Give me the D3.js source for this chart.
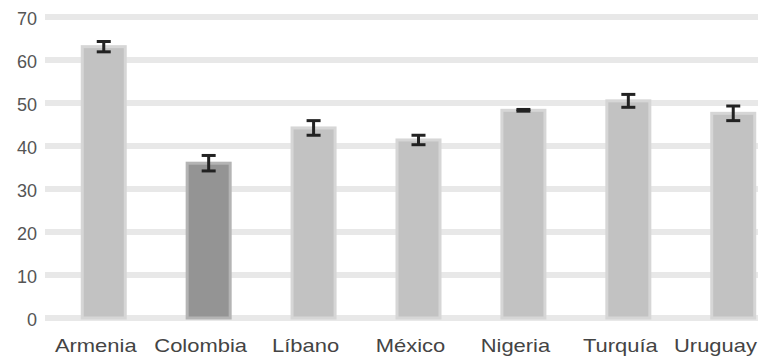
<!DOCTYPE html>
<html>
<head>
<meta charset="utf-8">
<script src="https://cdn.jsdelivr.net/npm/d3@7"></script>
<style>
  html, body { margin: 0; padding: 0; background: #ffffff; }
  svg { display: block; }
</style>
</head>
<body>
<svg id="chart" width="758" height="364"></svg>
<script>
// Country categories, mean values and error margins
const categories = ["Armenia", "Colombia", "Líbano", "México", "Nigeria", "Turquía", "Uruguay"];
const values = [63.1, 36.0, 44.2, 41.4, 48.3, 50.5, 47.6];
const errors = [1.2, 1.8, 1.7, 1.1, 0.2, 1.5, 1.7];
const yTicks = [0, 10, 20, 30, 40, 50, 60, 70];
const highlighted = ["Colombia"];

const W = 758;
const svg = d3.select("#chart");

const x = d3.scaleBand()
  .domain(categories)
  .range([45, 792])
  .paddingInner(0.59)
  .paddingOuter(0.355);

const y = d3.scaleLinear()
  .domain([0, 70])
  .range([318, 17]);

// Horizontal gridlines
svg.append("g")
  .selectAll("line")
  .data(yTicks)
  .join("line")
  .attr("x1", 45)
  .attr("x2", W)
  .attr("y1", d => y(d))
  .attr("y2", d => y(d))
  .attr("stroke", "#e8e8e8")
  .attr("stroke-width", 6);

// Y-axis labels
const yAxis = d3.axisLeft(y).tickValues(yTicks).tickSize(0).tickPadding(0);
const gy = svg.append("g")
  .attr("transform", "translate(37,2)")
  .call(yAxis);
gy.select(".domain").remove();
gy.selectAll("text")
  .attr("fill", "#555")
  .style("font-family", "'Liberation Sans', Arial, sans-serif")
  .style("font-size", "18px");

// Bars
const data = categories.map((c, i) => ({ c, v: values[i], e: errors[i] }));

svg.append("g")
  .selectAll("rect")
  .data(data)
  .join("rect")
  .attr("x", d => x(d.c))
  .attr("width", x.bandwidth())
  .attr("y", d => y(d.v))
  .attr("height", d => y(0) - y(d.v))
  .attr("fill", d => highlighted.includes(d.c) ? "#949494" : "#c2c2c2")
  .attr("stroke", d => highlighted.includes(d.c) ? "#b4b4b4" : "#d6d6d6")
  .attr("stroke-width", 3);

// Error bars
const eb = svg.append("g")
  .attr("stroke", "#222")
  .attr("stroke-width", 3)
  .selectAll("g")
  .data(data)
  .join("g")
  .attr("transform", d => `translate(${x(d.c) + x.bandwidth() / 2},0)`);

eb.append("line")
  .attr("y1", d => y(d.v + d.e))
  .attr("y2", d => y(d.v - d.e));
eb.append("line")
  .attr("x1", -7).attr("x2", 7)
  .attr("y1", d => y(d.v + d.e))
  .attr("y2", d => y(d.v + d.e));
eb.append("line")
  .attr("x1", -7).attr("x2", 7)
  .attr("y1", d => y(d.v - d.e))
  .attr("y2", d => y(d.v - d.e));

// Category labels (slightly widened text), kept inside the right edge
const sx = 1.22;
const labels = svg.append("g")
  .selectAll("text")
  .data(categories)
  .join("text")
  .attr("text-anchor", "middle")
  .attr("fill", "#444")
  .style("font-family", "'Liberation Sans', Arial, sans-serif")
  .style("font-size", "18px")
  .text(d => d);

labels.attr("transform", function (d) {
  const half = this.getComputedTextLength() * sx / 2;
  const cx = Math.min(x(d) + x.bandwidth() / 2 - 8, W - 1 - half);
  return `translate(${cx},352) scale(${sx},1)`;
});
</script>
</body>
</html>
